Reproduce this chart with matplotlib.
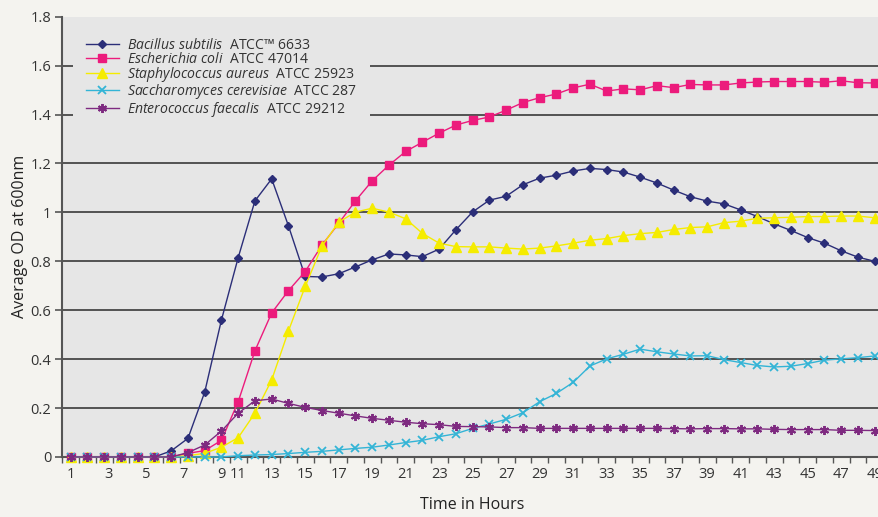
import numpy as np
import matplotlib
matplotlib.use("Agg")
import matplotlib.pyplot as plt
from matplotlib.ticker import FixedLocator, NullFormatter

plt.rcParams['font.family'] = ['Open Sans', 'DejaVu Sans']
plt.rcParams['mathtext.fontset'] = 'custom'
plt.rcParams['mathtext.it'] = 'Open Sans:italic'
plt.rcParams['mathtext.rm'] = 'Open Sans'

# Growth curves, one reading per hour (hours 1..49)
hours = np.arange(1, 50)

bacillus = [0, 0, 0, 0, 0, 0, 0.025, 0.076, 0.265, 0.56, 0.815, 1.047, 1.137, 0.945,
            0.738, 0.736, 0.749, 0.777, 0.806, 0.830, 0.826, 0.819, 0.850, 0.929, 1.002,
            1.050, 1.066, 1.113, 1.140, 1.152, 1.169, 1.180, 1.175, 1.165, 1.144, 1.120,
            1.091, 1.064, 1.046, 1.035, 1.010, 0.983, 0.953, 0.926, 0.897, 0.874, 0.843,
            0.817, 0.800]
ecoli = [0, 0, 0, 0, 0, 0, 0, 0.015, 0.026, 0.068, 0.226, 0.434, 0.589, 0.680, 0.758,
         0.866, 0.955, 1.047, 1.129, 1.193, 1.249, 1.287, 1.324, 1.357, 1.376, 1.390,
         1.418, 1.449, 1.469, 1.484, 1.509, 1.524, 1.496, 1.505, 1.501, 1.518, 1.510,
         1.523, 1.521, 1.521, 1.529, 1.533, 1.535, 1.535, 1.535, 1.532, 1.538, 1.530,
         1.529]
aureus = [0, 0, 0, 0, 0, 0, 0, 0.005, 0.015, 0.040, 0.079, 0.179, 0.315, 0.515, 0.697,
          0.862, 0.960, 1.001, 1.017, 1.001, 0.974, 0.914, 0.874, 0.860, 0.859, 0.859,
          0.854, 0.850, 0.854, 0.863, 0.874, 0.886, 0.893, 0.905, 0.913, 0.918, 0.930,
          0.938, 0.941, 0.958, 0.964, 0.976, 0.978, 0.980, 0.983, 0.983, 0.985, 0.985,
          0.978]
cerevisiae = [0, 0, 0, 0, 0, 0, 0, 0, 0, 0, 0.005, 0.008, 0.010, 0.014, 0.019, 0.023,
              0.029, 0.035, 0.040, 0.049, 0.059, 0.068, 0.083, 0.095, 0.117, 0.135,
              0.154, 0.181, 0.226, 0.260, 0.305, 0.372, 0.401, 0.420, 0.441, 0.430,
              0.421, 0.413, 0.414, 0.398, 0.386, 0.374, 0.368, 0.371, 0.382, 0.396,
              0.401, 0.406, 0.413]
faecalis = [0, 0, 0, 0, 0, 0, 0, 0.018, 0.049, 0.106, 0.179, 0.230, 0.237, 0.219, 0.203,
            0.190, 0.179, 0.168, 0.158, 0.150, 0.142, 0.136, 0.132, 0.125, 0.124, 0.123,
            0.120, 0.120, 0.117, 0.117, 0.117, 0.117, 0.117, 0.117, 0.117, 0.117, 0.116,
            0.115, 0.116, 0.116, 0.115, 0.115, 0.113, 0.112, 0.112, 0.112, 0.109, 0.109,
            0.108]

labels = [r"$Bacillus\ subtilis$  ATCC™ 6633",
          r"$Escherichia\ coli$  ATCC 47014",
          r"$Staphylococcus\ aureus$  ATCC 25923",
          r"$Saccharomyces\ cerevisiae$  ATCC 287",
          r"$Enterococcus\ faecalis$  ATCC 29212"]

# x tick labels (the first five are spread over the first ten hours)
xtick_pos = [1, 3.25, 5.5, 7.75, 10] + list(range(11, 50, 2))
xtick_labels = ["1", "3", "5", "7", "9"] + [str(h) for h in range(11, 50, 2)]

fig = plt.figure(figsize=(8.79, 5.17), dpi=100, facecolor="#f4f3ef")
ax = fig.add_axes([0.0709, 0.1161, 0.9337, 0.8516])
ax.set_facecolor("#e6e6e6")

styles = [
    dict(color="#2b2e78", marker="D", ms=4.2),
    dict(color="#ec1b7c", marker="s", ms=6.2),
    dict(color="#f5ec00", marker="^", ms=6.5),
    dict(color="#33b4d6", marker="x", ms=5.5, mew=1.3),
    dict(color="#7e2a80", marker=(6, 2, 0), ms=6.5, mew=1.4),
]
series = [bacillus, ecoli, aureus, cerevisiae, faecalis]
for vals, lab, st in zip(series, labels, styles):
    ax.plot(hours, vals, lw=1.0, label=lab, clip_on=False, zorder=3, **st)

ax.set_xlim(0.5, 49.5)
ax.set_ylim(0, 1.8)
ax.set_yticks(np.arange(0, 1.81, 0.2))
ax.set_yticklabels(["0", "0.2", "0.4", "0.6", "0.8", "1", "1.2", "1.4", "1.6", "1.8"])
for y in np.arange(0.2, 1.61, 0.2):
    ax.axhline(y, color="#3a3a3a", lw=1.2, zorder=1)

ax.xaxis.set_major_locator(FixedLocator(xtick_pos))
ax.set_xticklabels(xtick_labels)
ax.xaxis.set_minor_locator(FixedLocator(np.arange(0.5, 50, 1)))
ax.xaxis.set_minor_formatter(NullFormatter())
ax.tick_params(axis="x", which="major", length=0, pad=7, labelsize=10.5, labelcolor="#333333")
ax.tick_params(axis="x", which="minor", length=4, width=1, color="#555555")
ax.tick_params(axis="y", length=5, width=1.2, color="#555555", labelsize=10.5,
               labelcolor="#333333", pad=3)

for s in ["top", "right"]:
    ax.spines[s].set_visible(False)
for s in ["left", "bottom"]:
    ax.spines[s].set_color("#555555")
    ax.spines[s].set_linewidth(1.5)
ax.spines["bottom"].set_zorder(2)

ax.set_xlabel("Time in Hours", fontsize=11.5, color="#222222", labelpad=11)
ax.set_ylabel("Average OD at 600nm", fontsize=11.5, color="#222222", labelpad=1.5)

leg = ax.legend(loc="upper left", bbox_to_anchor=(0.013, 0.981), fontsize=10.1,
                handlelength=2.3, handletextpad=0.6, labelspacing=-0.12,
                frameon=True, facecolor="#e6e6e6", edgecolor="none", framealpha=1,
                borderpad=0.95, borderaxespad=0)
leg.set_zorder(5)
for t in leg.get_texts():
    t.set_color("#333333")

fig.savefig("out.png", dpi=100, facecolor=fig.get_facecolor())
